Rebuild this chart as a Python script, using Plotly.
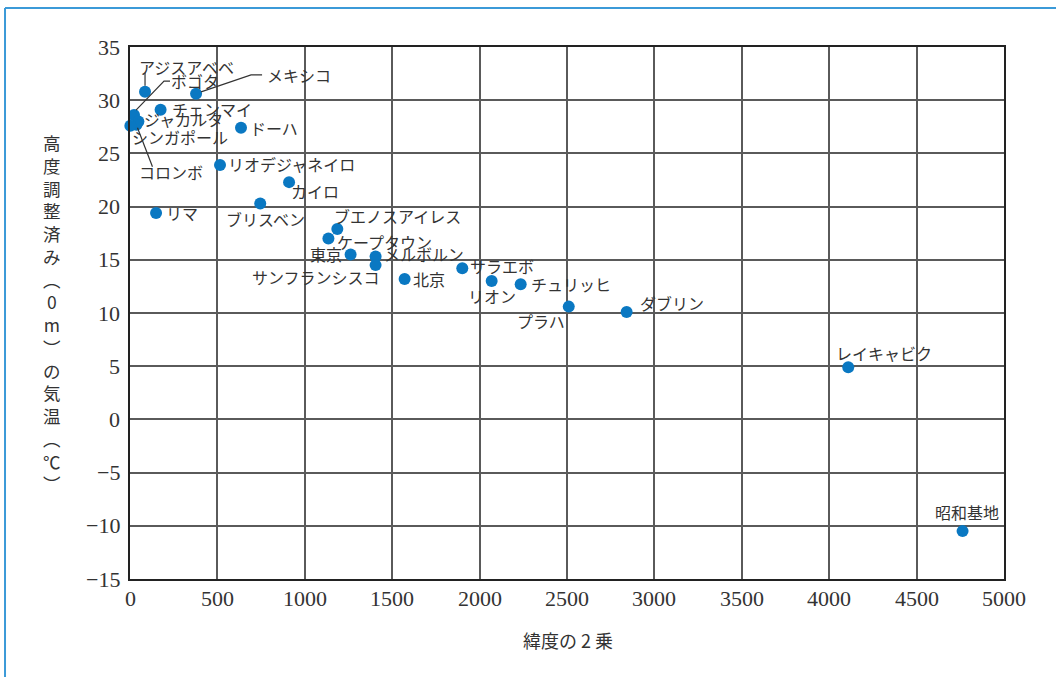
import plotly.graph_objects as go

cities = ["アジスアベベ", "ボゴタ", "メキシコ", "チェンマイ", "ジャカルタ", "コロンボ", "シンガポール",
          "ドーハ", "リオデジャネイロ", "カイロ", "ブリスベン", "リマ", "ブエノスアイレス", "ケープタウン",
          "東京", "メルボルン", "サンフランシスコ", "北京", "サラエボ", "リオン", "チュリッヒ",
          "プラハ", "ダブリン", "レイキャビク", "昭和基地"]
lat_sq = [86, 23, 378, 175, 48, 37, 2,
          635, 515, 910, 745, 149, 1186, 1135,
          1262, 1405, 1405, 1571, 1901, 2069, 2235,
          2510, 2841, 4109, 4763]
temp = [30.8, 28.6, 30.6, 29.1, 28.0, 27.7, 27.6,
        27.4, 23.9, 22.3, 20.3, 19.4, 17.9, 17.0,
        15.5, 15.3, 14.5, 13.2, 14.2, 13.0, 12.7,
        10.6, 10.1, 4.9, -10.5]

x_ticks = [0, 500, 1000, 1500, 2000, 2500, 3000, 3500, 4000, 4500, 5000]
y_ticks = [-15, -10, -5, 0, 5, 10, 15, 20, 25, 30, 35]
x_ticktext = [str(v) for v in x_ticks]
y_ticktext = [("−" + str(-v)) if v < 0 else str(v) for v in y_ticks]

# label placement: (xanchor, xshift, yshift) in pixels
label_pos = {
    "アジスアベベ": ("left", -8, 25),
    "ボゴタ": ("left", 35, 34),
    "メキシコ": ("left", 69, 19),
    "チェンマイ": ("left", 9, 1),
    "ジャカルタ": ("left", 4, 2),
    "コロンボ": ("center", 35, -47),
    "シンガポール": ("left", 0, -11),
    "ドーハ": ("left", 7, 0),
    "リオデジャネイロ": ("left", 6, 1),
    "カイロ": ("left", 0, -9),
    "ブリスベン": ("center", 5, -16),
    "リマ": ("left", 8, 0),
    "ブエノスアイレス": ("left", -5, 13),
    "ケープタウン": ("left", 7, -3),
    "東京": ("right", -7, 0),
    "メルボルン": ("left", 6, 3),
    "サンフランシスコ": ("right", 6, -12),
    "北京": ("left", 6, 0),
    "サラエボ": ("left", 6, 2),
    "リオン": ("center", 0, -15),
    "チュリッヒ": ("left", 8, 0),
    "プラハ": ("right", -2, -14),
    "ダブリン": ("left", 11, 9),
    "レイキャビク": ("left", -14, 14),
    "昭和基地": ("center", 4, 19),
}

# leader lines: pixel paths relative to the point (y up)
leaders = {
    "アジスアベベ": "M0,6 L0,19",
    "ボゴタ": "M2,5 L30,34 L36,34",
    "メキシコ": "M5,2 L55,19 L66,19",
    "コロンボ": "M1,-3 L16,-42",
}

NUM_FONT = "Liberation Serif"
JP_FONT = "Noto Sans CJK JP"
TXT = "#333333"

fig = go.Figure()
fig.add_trace(go.Scatter(
    x=lat_sq, y=temp, mode="markers",
    marker=dict(size=12, color="#0a78c2"),
    hoverinfo="text", text=cities, showlegend=False, cliponaxis=False,
))

annotations = []
shapes = []
for name, xv, yv in zip(cities, lat_sq, temp):
    anc, xs, ys = label_pos[name]
    annotations.append(dict(
        x=xv, y=yv, xref="x", yref="y", text=name, showarrow=False,
        xanchor=anc, yanchor="middle", xshift=xs, yshift=ys,
        font=dict(family=JP_FONT, size=16, color=TXT),
    ))
    if name in leaders:
        shapes.append(dict(
            type="path", xref="x", yref="y", xsizemode="pixel", ysizemode="pixel",
            xanchor=xv, yanchor=yv, path=leaders[name],
            line=dict(color=TXT, width=1.2),
        ))

# serif tick labels placed on the axis scales
for v, t in zip(x_ticks, x_ticktext):
    annotations.append(dict(
        x=v, y=0, xref="x", yref="paper", text=t, showarrow=False,
        xanchor="center", yanchor="top", yshift=-5,
        font=dict(family=NUM_FONT, size=22, color=TXT),
    ))
for v, t in zip(y_ticks, y_ticktext):
    annotations.append(dict(
        x=0, y=v, xref="paper", yref="y", text=t, showarrow=False,
        xanchor="right", yanchor="middle", xshift=-8,
        font=dict(family=NUM_FONT, size=22, color=TXT),
    ))

# vertical y-axis title (stacked characters)
ytitle_chars = ["高", "度", "調", "整", "済", "み", "︵", "0", "m", "︶", "の", "気", "温", "︵", "℃", "︶"]
annotations.append(dict(
    x=-0.0895, y=0.5, xref="paper", yref="paper", showarrow=False,
    text="<br>".join(ytitle_chars), align="center", xanchor="center", yanchor="middle",
    font=dict(family=JP_FONT, size=17.5, color=TXT),
))
annotations.append(dict(
    x=0.501, y=-0.115, xref="paper", yref="paper", showarrow=False,
    text="緯度の 2 乗", xanchor="center", yanchor="middle",
    font=dict(family=JP_FONT, size=18, color=TXT),
))

# page frame (blue border on top and left)
shapes.append(dict(type="line", xref="paper", yref="paper",
                   x0=-0.143, x1=1.08, y0=1.0733, y1=1.0733,
                   line=dict(color="#3b9ad8", width=2)))
shapes.append(dict(type="line", xref="paper", yref="paper",
                   x0=-0.143, x1=-0.143, y0=1.0733, y1=-0.2,
                   line=dict(color="#3b9ad8", width=2)))

fig.update_layout(
    width=1056, height=677,
    margin=dict(l=130, r=52, t=47, b=98),
    paper_bgcolor="white", plot_bgcolor="white",
    annotations=annotations, shapes=shapes,
    font=dict(family=NUM_FONT, color=TXT),
    xaxis=dict(
        range=[0, 5000], tickmode="array", tickvals=x_ticks, showticklabels=False,
        showgrid=True, gridcolor="#5a5a5a", gridwidth=1.5,
        showline=True, linecolor="#222222", linewidth=1.5, mirror=True,
        zeroline=False, ticks="",
    ),
    yaxis=dict(
        range=[-15, 35], tickmode="array", tickvals=y_ticks, showticklabels=False,
        showgrid=True, gridcolor="#5a5a5a", gridwidth=1.5,
        showline=True, linecolor="#222222", linewidth=1.5, mirror=True,
        zeroline=False, ticks="",
    ),
)

fig.write_html("out.html")
